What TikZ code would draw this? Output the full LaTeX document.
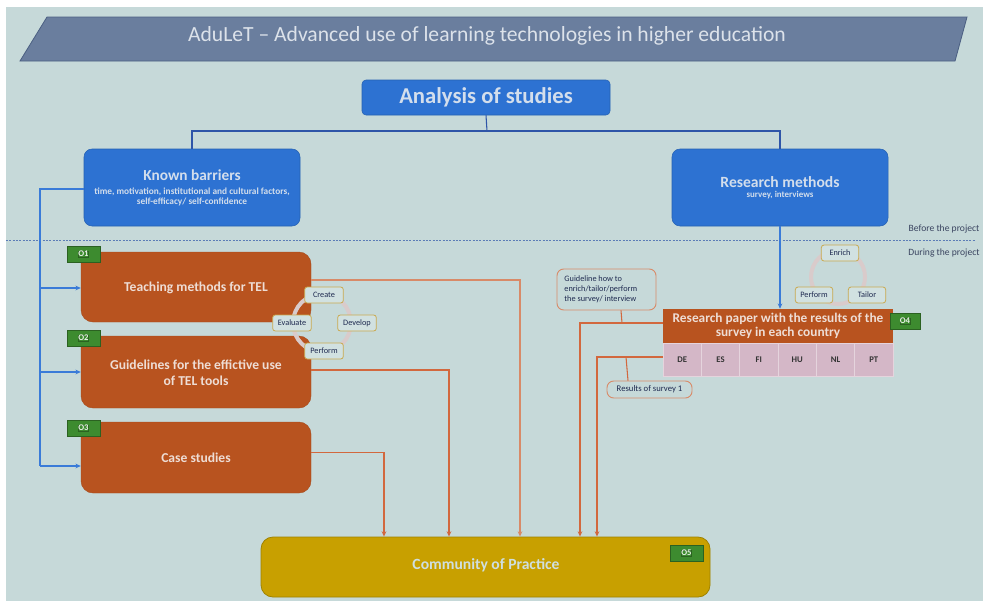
\documentclass[tikz,border=0pt]{standalone}
\usepackage{fontspec}
\setmainfont{Carlito}
\usetikzlibrary{fit,arrows.meta,calc}
\definecolor{bgc}{HTML}{C6D9D9}
\definecolor{titlefill}{HTML}{6A7E9E}
\definecolor{titleborder}{HTML}{4B5F82}
\definecolor{titletext}{HTML}{DCE2EA}
\definecolor{boxblue}{HTML}{2D72D2}
\definecolor{bluetext}{HTML}{D3DEEC}
\definecolor{bluelink}{HTML}{2E55A8}
\definecolor{arrowblue}{HTML}{3A7BD8}
\definecolor{boxorange}{HTML}{B8531F}
\definecolor{orangeline}{HTML}{D2683E}
\definecolor{orangelight}{HTML}{D88A68}
\definecolor{taggreen}{HTML}{3D8B2F}
\definecolor{boxgold}{HTML}{C8A000}
\definecolor{goldborder}{HTML}{9E8200}
\definecolor{cyclec}{HTML}{D9CBCB}
\definecolor{stepborder}{HTML}{C9A94F}
\definecolor{steptext}{HTML}{1F2A50}
\definecolor{cellpink}{HTML}{D4B7C7}
\definecolor{orangetext}{HTML}{EEDDD5}
\definecolor{notetext}{HTML}{3A4460}
\begin{document}
\begin{tikzpicture}[x=0.75pt,y=-0.75pt,
  bluebox/.style={fill=boxblue,draw=boxblue!85!black,line width=0.4pt,rounded corners=6pt,inner sep=0pt,text=bluetext,align=center},
  orbox/.style={fill=boxorange,draw=boxorange!90!black,line width=0.3pt,rounded corners=9pt,inner sep=0pt,text=orangetext,align=center},
  ortext/.style={text=orangetext,align=center,font=\fontsize{10.2}{12}\selectfont\bfseries},
  tagbox/.style={fill=taggreen,draw=taggreen!70!black,line width=0.4pt,inner sep=0pt,text=white!88!taggreen,font=\fontsize{6.5}{7}\selectfont\bfseries},
  stepbox/.style={fill=bgc!80!white,draw=stepborder,line width=0.6pt,rounded corners=2pt,inner sep=0pt,minimum width=29pt,minimum height=12pt,text=steptext,font=\fontsize{6.2}{7}\selectfont},
  notebox/.style={fill=bgc,draw=orangelight,line width=0.7pt,rounded corners=5pt,inner sep=0pt,text=steptext,font=\fontsize{6.2}{7.5}\selectfont},
  oline/.style={draw=orangeline,line width=0.8pt},
  blink/.style={draw=bluelink,line width=0.8pt},
  barrow/.style={draw=arrowblue,line width=0.9pt,-{Stealth[length=4pt,width=3.5pt]}},
  oarrow/.style={oline,-{Stealth[length=4pt,width=3.5pt]}}
]
\useasboundingbox (0,0) rectangle (987,603);
\fill[white] (0,0) rectangle (987,603);
\fill[bgc] (6,7) rectangle (983,601);

% title
\draw[fill=titlefill,draw=titleborder,line width=0.6pt] (47,17) -- (967,17) -- (955,61) -- (20,61) -- cycle;
\node[text=titletext,font=\fontsize{16.2}{18}\selectfont] (title) at (487,36) {AduLeT -- Advanced use of learning technologies in higher education};

% top box
\node[bluebox,rounded corners=3pt,fit={(362,80)(610,115)}] (ana) {};
\node[text=bluetext,font=\fontsize{17}{19}\selectfont\bfseries] (anat) at (ana.center) {Analysis of studies};

% blue boxes
\node[bluebox,fit={(84,149)(300,226)}] (kb) {};
\node[text=bluetext,font=\fontsize{11.5}{13}\selectfont\bfseries] (kbt) at (192,175) {Known barriers};
\node[text=bluetext,align=center,font=\fontsize{7}{8}\selectfont\bfseries] (kbs) at (192,197) {time, motivation, institutional and cultural factors,\\ self-efficacy/ self-confidence};

\node[bluebox,fit={(672,149)(888,226)}] (rm) {};
\node[text=bluetext,font=\fontsize{11.7}{13}\selectfont\bfseries] (rmt) at (780,182) {Research methods};
\node[text=bluetext,font=\fontsize{6.7}{7.5}\selectfont\bfseries] (rms) at (780,195.5) {survey, interviews};

% tree connector
\coordinate (tj) at (487,131);
\draw[blink] (ana.south) -- (tj);
\draw[blink] (kb.north) |- (tj) -| (rm.north);

% dotted separator
\draw[draw=bluelink!70!bgc,line width=0.7pt,dash pattern=on 1.5pt off 1pt] (6,240) -- (976,240);
\node[text=notetext,font=\fontsize{7.2}{8}\selectfont] (bef) at (944,229) {Before the project};
\node[text=notetext,font=\fontsize{7.2}{8}\selectfont] (dur) at (944,253) {During the project};

% orange boxes
\node[orbox,fit={(81,252)(311,322)}] (o1) {};
\node[ortext] (o1t) at (196,288) {Teaching methods for TEL};
\node[orbox,fit={(81,336)(311,408)}] (o2) {};
\node[ortext] (o2t) at (196,373) {Guidelines for the effictive use\\ of TEL tools};
\node[orbox,fit={(81,422)(311,493)}] (o3) {};
\node[ortext] (o3t) at (196,458) {Case studies};

\node[tagbox,fit={(67,246)(100,262)}] (t1) {};
\node[tagbox] at (t1.center) {O1};
\node[tagbox,fit={(67,330)(100,346)}] (t2) {};
\node[tagbox] at (t2.center) {O2};
\node[tagbox,fit={(67,420)(100,436)}] (t3) {};
\node[tagbox] at (t3.center) {O3};

% blue feed
\coordinate (sp0) at (40,189);
\coordinate (sp1) at (40,288);
\coordinate (sp2) at (40,372);
\coordinate (sp3) at (40,466);
\draw[draw=arrowblue,line width=0.9pt] (kb.west |- sp0) -- (sp0) -- (sp3);
\draw[barrow] (sp1) -- (o1.west |- sp1);
\draw[barrow] (sp2) -- (o2.west |- sp2);
\draw[barrow] (sp3) -- (o3.west |- sp3);

% cycle left
\draw[cyclec,line width=3pt] (322,323) circle (29);
\node[stepbox] (create) at (324,295) {Create};
\node[stepbox] (develop) at (357,323) {Develop};
\node[stepbox] (perform) at (324,351) {Perform};
\node[stepbox] (evaluate) at (292,323) {Evaluate};

% community of practice
\node[fill=boxgold,draw=goldborder,line width=0.6pt,rounded corners=9pt,fit={(261,537)(710,597)},inner sep=0pt] (cop) {};
\node[text=bgc!85!white,font=\fontsize{11.7}{13}\selectfont\bfseries] (copt) at (486,565) {Community of Practice};
\node[tagbox,fit={(670,545)(703,561)}] (t5) {};
\node[tagbox] at (t5.center) {O5};

% orange connectors from O1-O3
\draw[oarrow,draw=orangelight] ($(o1.east)+(0,-7)$) -| (cop.north -| 520,0);
\draw[oarrow] ($(o2.east)+(0,-2)$) -| (cop.north -| 449,0);
\draw[oarrow] ($(o3.east)+(0,-5)$) -| (cop.north -| 384,0);

% right cycle
\draw[cyclec,line width=3pt] (838,277) circle (27);
\node[stepbox,minimum width=28pt] (enrich) at (840,253) {Enrich};
\node[stepbox,minimum width=28pt] (perform2) at (814,295) {Perform};
\node[stepbox,minimum width=28pt] (tailor) at (867,295) {Tailor};

% research paper O4
\node[fill=boxorange,inner sep=0pt,fit={(663,309)(893,343)}] (o4) {};
\node[text=orangetext,align=center,font=\fontsize{10}{11}\selectfont\bfseries] (o4t) at (778,326) {Research paper with the results of the\\ survey in each country};
\foreach \c [count=\i from 0] in {DE,ES,FI,HU,NL,PT}{
  \node[fill=cellpink,draw=cellpink!60!white,line width=0.5pt,inner sep=0pt,minimum width=28.75pt,minimum height=24.75pt,font=\fontsize{6.5}{7}\selectfont\bfseries,text=black!80] (c\c) at ({663+19.17+38.33*\i},359.5) {\c};
}
\node[tagbox,fit={(890,313)(920,329)}] (t4) {};
\node[tagbox] at (t4.center) {O4};

\draw[barrow] (rm.south) -- (o4.north -| rm.south);

% notes
\node[notebox,fit={(557,269)(656,310)}] (gl) {};
\node[notebox,draw=none,fill=none,align=left,anchor=west] (glt) at (564,289.5) {Guideline how to\\ enrich/tailor/perform\\ the survey/ interview};
\node[notebox,fit={(607,381)(692,398)}] (rs) {};
\node[notebox,draw=none,fill=none,font=\fontsize{6.5}{7.5}\selectfont] (rst) at (rs.center) {Results of survey 1};

\coordinate (g1) at (580,323);
\coordinate (g2) at (597,357);
\draw[oarrow] (o4.west |- g1) -- (g1) -- (cop.north -| g1);
\draw[oarrow] (cDE.west |- g2) -- (g2) -- (cop.north -| g2);
\draw[oline] (gl.south -| 621,0) -- (622,323);
\draw[oline] (rs.north -| 628,0) -- (626,357);
\end{tikzpicture}
\end{document}
